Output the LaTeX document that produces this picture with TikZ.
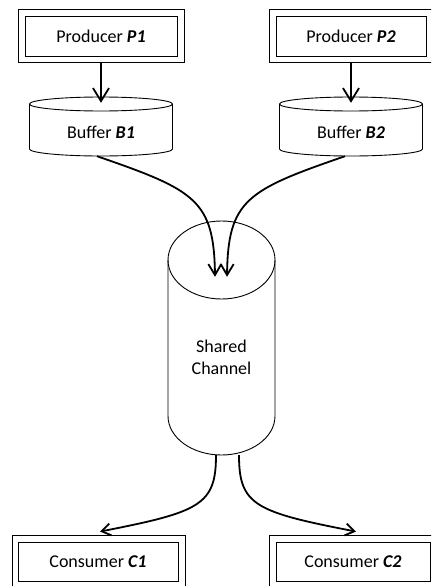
\documentclass[tikz,border=0pt]{standalone}
\usepackage{fontspec}
\setmainfont{Carlito}
\usetikzlibrary{arrows.meta,calc}
\begin{document}
\begin{tikzpicture}[x=1pt,y=-1pt,
  font=\fontsize{18}{22}\selectfont,
  box/.style={draw, line width=0.9pt, inner sep=0pt},
  hull/.style={inner sep=0pt},
  outline/.style={line width=0.9pt},
  feed/.style={line width=1.8pt, -{Straight Barb[length=13pt,width=16pt]}},
  merge/.style={line width=1.8pt, -{Straight Barb[length=11pt,width=13pt]}},
  split/.style={line width=1.8pt, -{Straight Barb[length=9pt,width=12pt]}},
]
\useasboundingbox (0,0) rectangle (431,586);
\clip (0,0) rectangle (431,586);

% producers
\node[box, minimum width=152pt, minimum height=40pt] (p1) at (101,36) {Producer \textbf{\textit{P1}}};
\node[box, minimum width=166pt, minimum height=53pt] (p1o) at (101,35.5) {};
\node[box, minimum width=150pt, minimum height=40pt] (p2) at (351,36) {Producer \textbf{\textit{P2}}};
\node[box, minimum width=164pt, minimum height=53pt] (p2o) at (351,35.5) {};

% buffers (cylinders)
\node[hull, minimum width=143pt, minimum height=59pt] (b1) at (101,126.5) {};
\draw[outline] (29.5,104) -- (29.5,149) arc[start angle=180,end angle=0,x radius=71.5,y radius=7] -- (172.5,104);
\draw[outline] (101,104) ellipse[x radius=71.5,y radius=7];
\node[anchor=base] (b1t) at (101,138) {Buffer \textbf{\textit{B1}}};

\node[hull, minimum width=143pt, minimum height=59pt] (b2) at (351,126.5) {};
\draw[outline] (279.5,104) -- (279.5,149) arc[start angle=180,end angle=0,x radius=71.5,y radius=7] -- (422.5,104);
\draw[outline] (351,104) ellipse[x radius=71.5,y radius=7];
\node[anchor=base] (b2t) at (351,138) {Buffer \textbf{\textit{B2}}};

% shared channel
\node[hull, minimum width=107pt, minimum height=234pt] (ch) at (221.5,338) {};
\draw[outline] (168,260) -- (168,416) arc[start angle=180,end angle=0,x radius=53.5,y radius=39] -- (275,260);
\draw[outline] (221.5,260) ellipse[x radius=53.5,y radius=39];
\node[align=center] (cht) at (221.5,357.7) {Shared\\Channel};

% consumers
\node[box, minimum width=160pt, minimum height=39pt] (c1) at (98,561.5) {Consumer \textbf{\textit{C1}}};
\node[box, minimum width=173pt, minimum height=53pt] (c1o) at (98.5,561.5) {};
\node[box, minimum width=154pt, minimum height=39pt] (c2) at (353,561.5) {Consumer \textbf{\textit{C2}}};
\node[box, minimum width=168pt, minimum height=53pt] (c2o) at (353,561.5) {};

% connectors
\draw[feed] (p1o.south) -- ($(b1.north)+(0,6)$);
\draw[feed] (p2o.south) -- ($(b2.north)+(0,6)$);

\draw[merge] ($(b1.south)+(-4,0)$) .. controls (195,190) and (214,200) .. ($(ch.north)+(-6.5,56)$);
\draw[merge] ($(b2.south)+(-6,0)$) .. controls (247,190) and (228,200) .. ($(ch.north)+(5.5,56)$);

\draw[split] ($(ch.south)+(-5.5,0)$) .. controls (216,505) and (200,512) .. ($(c1o.north)+(1.5,-3)$);
\draw[split] ($(ch.south)+(17.5,0)$) .. controls (239,505) and (255,512) .. ($(c2o.north)+(3,-3)$);
\end{tikzpicture}
\end{document}
